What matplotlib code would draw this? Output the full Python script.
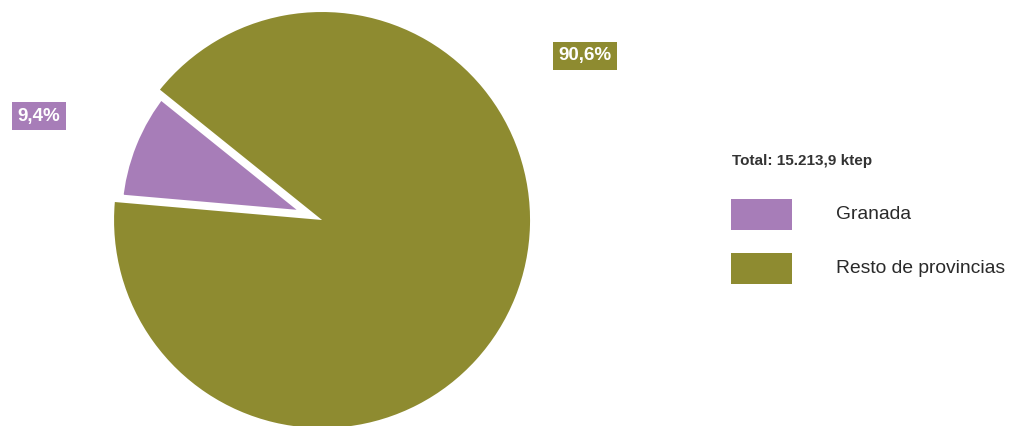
import matplotlib.pyplot as plt
from matplotlib.patches import Rectangle

labels = ['Granada', 'Resto de provincias']
values = [9.4, 90.6]
pct_labels = ['9,4%', '90,6%']
colors = ['#A77DB8', '#8E8B30']
total_text = 'Total: 15.213,9 ktep'

plt.rcParams['font.family'] = ['Liberation Sans', 'DejaVu Sans']

fig = plt.figure(figsize=(10.11, 4.26), dpi=100)
ax = fig.add_axes([0.1128, -0.0047, 0.4115, 0.9765])

wedges, _ = ax.pie(values, colors=colors, startangle=141.2, counterclock=True,
                   radius=1.0, wedgeprops=dict(linewidth=0))
# Granada wedge gets a thick white outline; the big wedge is drawn on top
# so only the inner half of the outline shows -> cut-out look
wedges[0].set_edgecolor('white')
wedges[0].set_linewidth(11.5)
wedges[0].set_zorder(1)
wedges[1].set_zorder(2)
ax.set_xlim(-1, 1)
ax.set_ylim(-1, 1)
ax.set_aspect('equal')
ax.axis('off')

# percent labels in coloured boxes
label_pos = [(-1.36, 0.50), (1.265, 0.79)]
for (x, y), txt, c in zip(label_pos, pct_labels, colors):
    ax.text(x, y, txt, color='white', fontsize=13.5, fontweight='bold',
            ha='center', va='center', clip_on=False,
            bbox=dict(boxstyle='square,pad=0.3', facecolor=c, edgecolor='none'))

# legend drawn by hand
fig.text(732 / 1011, 1 - 161 / 426, total_text, fontsize=11, fontweight='bold',
         color='#333333', va='center', ha='left')
for i, (lab, c) in enumerate(zip(labels, colors)):
    top = 199 + i * 54
    fig.add_artist(Rectangle((731 / 1011, 1 - (top + 31) / 426), 61 / 1011, 31 / 426,
                             facecolor=c, edgecolor='none', transform=fig.transFigure))
    fig.text(836 / 1011, 1 - (top + 15.5) / 426, lab, fontsize=13.9,
             color='#2a2a2a', va='center', ha='left')

fig.savefig('out.png', dpi=100)
